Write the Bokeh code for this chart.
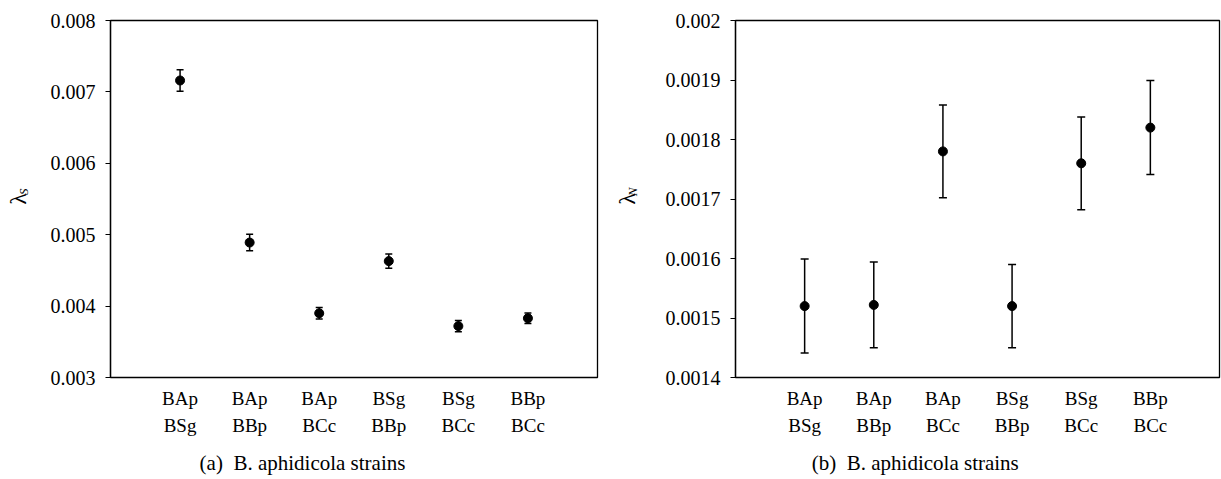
from bokeh.plotting import figure
from bokeh.models import (ColumnDataSource, Whisker, TeeHead, LinearAxis,
                          FixedTicker, Range1d)
from bokeh.layouts import row
from bokeh.embed import file_html
from bokeh.resources import INLINE

# ---------------- data ----------------
cat_top = ["BAp", "BAp", "BAp", "BSg", "BSg", "BBp"]
cat_bottom = ["BSg", "BBp", "BCc", "BBp", "BCc", "BCc"]
x_pos = [1, 2, 3, 4, 5, 6]

lambda_s = [0.00716, 0.00489, 0.00390, 0.00463, 0.00372, 0.00383]
lambda_s_err = [0.00015, 0.000115, 0.00008, 0.0001, 0.00008, 0.000075]

lambda_n = [0.00152, 0.001522, 0.00178, 0.00152, 0.00176, 0.00182]
lambda_n_err = [0.000079, 0.000072, 0.000078, 0.00007, 0.000078, 0.000079]

ticks_s = [0.003, 0.004, 0.005, 0.006, 0.007, 0.008]
ticks_n = [0.0014, 0.0015, 0.0016, 0.0017, 0.0018, 0.0019, 0.002]

captions = ["(a)\u00a0 B. aphidicola strains", "(b)\u00a0 B. aphidicola strains"]

FONT = "Liberation Serif"
H = 477


def make_panel(vals, errs, yticks, sub, caption, width, bl, br, bt, bb,
               cap_x, sub_frac, sub_standoff, lam_standoff, cap_head):
    ymin, ymax = yticks[0], yticks[-1]
    xmin, xmax = 0, 7
    p = figure(width=width, height=H, output_backend="svg", toolbar_location=None,
               x_range=Range1d(xmin, xmax), y_range=Range1d(ymin, ymax),
               min_border_left=bl, min_border_right=br, min_border_top=bt,
               min_border_bottom=bb)
    p.xgrid.grid_line_color = None
    p.ygrid.grid_line_color = None
    p.outline_line_color = "black"
    p.outline_line_width = 1.3
    p.background_fill_color = "white"
    p.border_fill_color = "white"

    src = ColumnDataSource(dict(
        x=x_pos, y=vals,
        upper=[v + e for v, e in zip(vals, errs)],
        lower=[v - e for v, e in zip(vals, errs)]))

    w = Whisker(base="x", upper="upper", lower="lower", source=src,
                line_color="black", line_width=1.5,
                upper_head=TeeHead(size=cap_head, line_color="black", line_width=1.5),
                lower_head=TeeHead(size=cap_head, line_color="black", line_width=1.5))
    p.add_layout(w)
    p.scatter(x="x", y="y", source=src, size=9, marker="circle",
              fill_color="black", line_color="black")

    # y axis (numbers)
    ya = p.yaxis[0]
    ya.ticker = FixedTicker(ticks=yticks)
    ya.major_label_overrides = {t: f"{t:g}" for t in yticks}
    ya.minor_tick_line_color = None
    ya.major_tick_in = 0
    ya.major_tick_out = 5
    ya.major_tick_line_color = "black"
    ya.major_tick_line_width = 1.2
    ya.axis_line_color = "black"
    ya.axis_line_width = 1.3
    ya.major_label_standoff = 10
    ya.major_label_text_font = FONT
    ya.major_label_text_font_size = "20px"
    ya.major_label_text_color = "black"

    # y label: lambda (axis label) with italic subscript (tick label)
    y_sub = ymin + sub_frac * (ymax - ymin)
    ye = LinearAxis(ticker=FixedTicker(ticks=[y_sub]),
                    major_label_overrides={y_sub: sub},
                    axis_label="\u03bb")
    ye.axis_line_color = None
    ye.major_tick_line_color = None
    ye.minor_tick_line_color = None
    ye.major_tick_in = 0
    ye.major_tick_out = 0
    ye.major_label_orientation = "vertical"
    ye.major_label_standoff = sub_standoff
    ye.major_label_text_font = FONT
    ye.major_label_text_font_size = "13px"
    ye.major_label_text_font_style = "italic"
    ye.major_label_text_color = "black"
    ye.axis_label_standoff = lam_standoff
    ye.axis_label_text_font = FONT
    ye.axis_label_text_font_size = "24px"
    ye.axis_label_text_font_style = "normal"
    ye.axis_label_text_color = "black"
    p.add_layout(ye, "left")

    # x axes: two stacked lines of labels, then the caption
    xa = p.xaxis[0]
    xa.ticker = FixedTicker(ticks=x_pos)
    xa.major_label_overrides = {x: t for x, t in zip(x_pos, cat_top)}
    xb = LinearAxis(ticker=FixedTicker(ticks=x_pos),
                    major_label_overrides={x: t for x, t in zip(x_pos, cat_bottom)})
    p.add_layout(xb, "below")
    xc = LinearAxis(ticker=FixedTicker(ticks=[cap_x]),
                    major_label_overrides={cap_x: caption})
    p.add_layout(xc, "below")
    for ax, so, fs in ((xa, 10, "19px"), (xb, 3, "19px"), (xc, 12, "21px")):
        ax.axis_line_color = None
        ax.major_tick_line_color = None
        ax.minor_tick_line_color = None
        ax.major_tick_in = 0
        ax.major_tick_out = 0
        ax.major_label_standoff = so
        ax.major_label_text_font = FONT
        ax.major_label_text_font_size = fs
        ax.major_label_text_color = "black"
    return p


left = make_panel(lambda_s, lambda_s_err, ticks_s, "S", captions[0],
                  width=600, bl=110, br=3, bt=20, bb=100,
                  cap_x=2.76, sub_frac=0.52, sub_standoff=16, lam_standoff=-17,
                  cap_head=7)
right = make_panel(lambda_n, lambda_n_err, ticks_n, "N", captions[1],
                   width=621, bl=135, br=2, bt=15, bb=100,
                   cap_x=2.6, sub_frac=0.52, sub_standoff=22, lam_standoff=-17,
                   cap_head=8)

layout = row(left, right)
open("out.html", "w").write(file_html(layout, INLINE))
